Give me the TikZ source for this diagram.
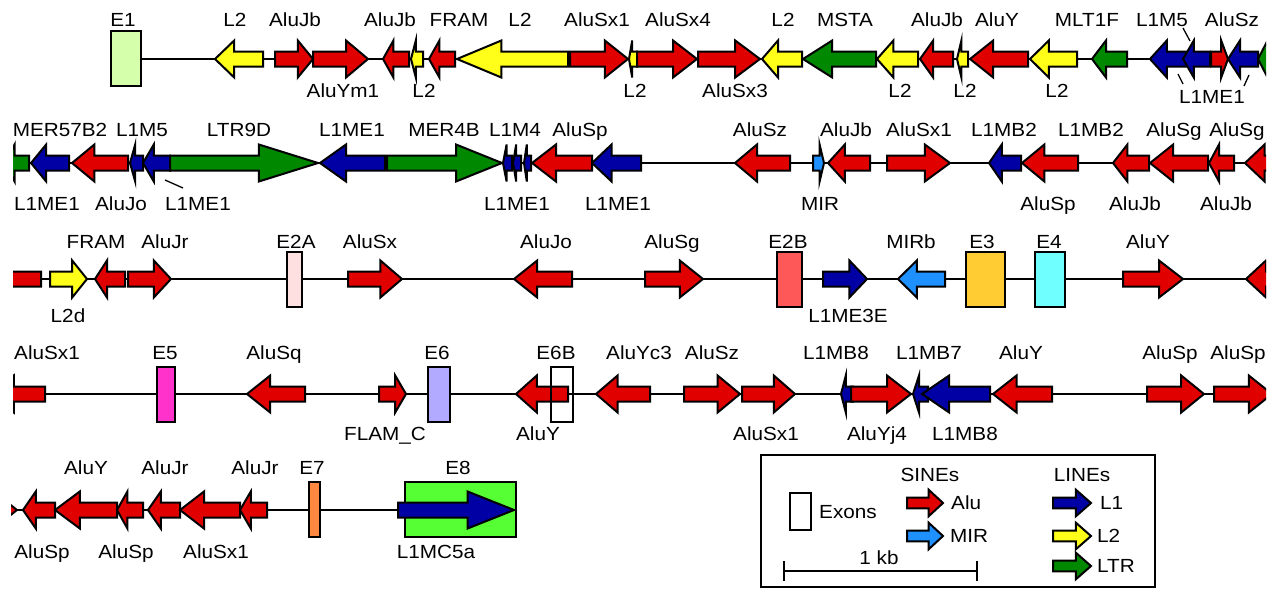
\documentclass[tikz,border=0pt]{standalone}
\usepackage{fontspec}
\setmainfont{Liberation Sans}[FakeStretch=1.09]
\usetikzlibrary{arrows.meta}
\definecolor{alured}{RGB}{224,0,0}
\definecolor{ltwoyel}{RGB}{255,255,26}
\definecolor{ltrgrn}{RGB}{0,136,0}
\definecolor{loneblu}{RGB}{0,0,165}
\definecolor{mirblu}{RGB}{30,144,255}
\definecolor{exA}{RGB}{213,255,170}
\definecolor{exB}{RGB}{255,224,224}
\definecolor{exC}{RGB}{255,88,88}
\definecolor{exD}{RGB}{255,204,51}
\definecolor{exE}{RGB}{112,255,255}
\definecolor{exF}{RGB}{255,51,204}
\definecolor{exG}{RGB}{178,170,255}
\definecolor{exH}{RGB}{255,136,64}
\definecolor{exI}{RGB}{85,255,51}
\tikzset{
  rep/.style={draw,line width=2pt},
  backbone/.style={line width=1.8pt},
  exon/.style={draw,line width=2pt,inner sep=0pt,minimum height=55pt},
  lab/.style={font=\fontsize{19}{21}\selectfont,inner sep=0pt,text height=13.6pt,text depth=0pt},
  lead/.style={line width=1.3pt}
}
\newcommand\repel[5][1]{%
  \pgfmathsetmacro\headx{#5-0.4*(#5-#4)}%
  \draw[rep,fill=#2] (#4,#3-7.5*#1) -- (\headx,#3-7.5*#1) -- (\headx,#3-18.5*#1) -- (#5,#3)
    -- (\headx,#3+18.5*#1) -- (\headx,#3+7.5*#1) -- (#4,#3+7.5*#1) -- cycle;}

\begin{document}
\begin{tikzpicture}[x=1pt,y=-1pt]
\useasboundingbox (0,0) rectangle (1278,589);

\begin{scope}
\clip (100,0) rectangle (1266,110);
\draw[backbone] (141,59) -- (1266,59);
\node[exon,fill=exA,minimum width=30pt] (e1) at (126,58.5) {};
\foreach \c/\a/\b in {ltwoyel/263/215, alured/275/313, alured/313/368, alured/409/383,
  ltwoyel/423/411, alured/455/429, ltwoyel/568/457, alured/570/628, ltwoyel/637/629,
  alured/637/697, alured/698/760, ltwoyel/802/762, ltrgrn/876/803, ltwoyel/918/877,
  alured/953/920, ltwoyel/968/957, alured/1028/970, ltwoyel/1077/1030, ltrgrn/1127/1092,
  loneblu/1192/1150, loneblu/1210/1183, alured/1211/1228, loneblu/1258/1228, ltrgrn/1282/1258}
  \repel{\c}{59}{\a}{\b};
\end{scope}
\foreach \x/\t [count=\i] in {123/E1, 235/L2, 295/AluJb, 390/AluJb, 459/FRAM, 520/L2,
  597/AluSx1, 678/AluSx4, 783/L2, 845/MSTA, 937/AluJb, 997/AluY, 1087/MLT1F, 1162/L1M5, 1232/AluSz}
  \node[lab] (ra\i) at (\x,20) {\t};
\foreach \x/\t [count=\i] in {343/AluYm1, 424/L2, 635/L2, 735/AluSx3, 900/L2, 965/L2, 1057/L2}
  \node[lab] (rb\i) at (\x,91) {\t};
\node[lab] (rbme) at (1212,97) {L1ME1};
\coordinate (ka) at (1183,28); \coordinate (kb) at (1190,41);
\coordinate (kc) at (1178,74); \coordinate (kd) at (1183,84);
\coordinate (ke) at (1249,75); \coordinate (kf) at (1244,86);
\draw[lead] (ka) -- (kb);
\draw[lead] (kc) -- (kd);
\draw[lead] (ke) -- (kf);

\begin{scope}
\clip (13,110) rectangle (1266,225);
\draw[backbone] (13,163) -- (1266,163);
\foreach \c/\a/\b in {ltrgrn/29/5, loneblu/69/31, alured/128/72, loneblu/143/130, loneblu/170/143,
  ltrgrn/170/318, loneblu/385/320, ltrgrn/387/502, loneblu/512/503, loneblu/521/513, loneblu/531/524,
  alured/592/532, loneblu/641/592, alured/790/735, mirblu/813/824, alured/870/828, alured/887/950,
  loneblu/1021/989, alured/1078/1022, alured/1149/1113, alured/1208/1150, alured/1234/1209,
  alured/1294/1245}
  \repel{\c}{163}{\a}{\b};
\end{scope}
\foreach \x/\t [count=\i] in {60/MER57B2, 142/L1M5, 239/LTR9D, 352/L1ME1, 444/MER4B, 515/L1M4,
  580/AluSp, 760/AluSz, 846/AluJb, 919/AluSx1, 1004/L1MB2, 1091/L1MB2, 1174/AluSg, 1237/AluSg}
  \node[lab] (sa\i) at (\x,130) {\t};
\foreach \x/\t [count=\i] in {47/L1ME1, 121/AluJo, 198/L1ME1, 517/L1ME1, 618/L1ME1, 820/MIR,
  1048/AluSp, 1135/AluJb, 1226/AluJb}
  \node[lab] (sb\i) at (\x,204) {\t};
\coordinate (kg) at (165,180); \coordinate (kh) at (183,188);
\draw[lead] (kg) -- (kh);

\begin{scope}
\clip (13,225) rectangle (1266,335);
\draw[backbone] (13,279) -- (1266,279);
\node[exon,fill=exB,minimum width=15pt] (e2a) at (294.5,279) {};
\node[exon,fill=exC,minimum width=25pt] (e2b) at (789.5,279) {};
\node[exon,fill=exD,minimum width=39pt] (e3) at (985.5,279) {};
\node[exon,fill=exE,minimum width=30pt] (e4) at (1050,279) {};
\foreach \c/\a/\b in {alured/41/-8, ltwoyel/50/87, alured/125/95, alured/128/171, alured/348/402,
  alured/572/514, alured/645/703, loneblu/823/867, mirblu/945/898, alured/1123/1183, alured/1296/1246}
  \repel{\c}{279}{\a}{\b};
\end{scope}
\foreach \x/\t [count=\i] in {96/FRAM, 165/AluJr, 296/E2A, 370/AluSx, 546/AluJo, 672/AluSg,
  788/E2B, 911/MIRb, 982/E3, 1049/E4, 1148/AluY}
  \node[lab] (ta\i) at (\x,242) {\t};
\foreach \x/\t [count=\i] in {68/L2d, 848/L1ME3E}
  \node[lab] (tb\i) at (\x,316) {\t};

\begin{scope}
\clip (13,335) rectangle (1266,450);
\draw[backbone] (13,394) -- (1266,394);
\node[exon,fill=exF,minimum width=18pt] (e5) at (166,394) {};
\node[exon,fill=exG,minimum width=22pt] (e6) at (439,394) {};
\foreach \c/\a/\b in {alured/45/-7, alured/305/247, alured/379/406, alured/568/516}
  \repel{\c}{394}{\a}{\b};
\node[exon,minimum width=22pt] (e6b) at (562,394) {};
\foreach \c/\a/\b in {alured/650/596, alured/684/740, alured/742/795, loneblu/853/841, alured/851/911,
  loneblu/928/913, loneblu/990/922, alured/1052/993, alured/1147/1204, alured/1214/1272}
  \repel{\c}{394}{\a}{\b};
\end{scope}
\foreach \x/\t [count=\i] in {47/AluSx1, 165/E5, 274/AluSq, 437/E6, 556/E6B, 639/AluYc3, 712/AluSz,
  836/L1MB8, 929/L1MB7, 1021/AluY, 1170/AluSp, 1238/AluSp}
  \node[lab] (ua\i) at (\x,353) {\t};
\foreach \x/\t [count=\i] in {385/FLAM\_C, 538/AluY, 766/AluSx1, 877/AluYj4, 965/L1MB8}
  \node[lab] (ub\i) at (\x,434) {\t};

\begin{scope}
\clip (11,450) rectangle (600,589);
\draw[backbone] (11,510) -- (398,510);
\node[exon,fill=exH,minimum width=11pt] (e7) at (314.5,509.5) {};
\node[exon,fill=exI,minimum width=111pt] (e8) at (460.5,509.5) {};
\foreach \c/\a/\b in {alured/-41/17, alured/55/23, alured/117/55, alured/143/117, alured/180/148,
  alured/240/180, alured/267/240, loneblu/398/514}
  \repel{\c}{510}{\a}{\b};
\end{scope}
\foreach \x/\t [count=\i] in {86/AluY, 165/AluJr, 255/AluJr, 312/E7, 458/E8}
  \node[lab] (va\i) at (\x,468) {\t};
\foreach \x/\t [count=\i] in {42/AluSp, 126/AluSp, 216/AluSx1, 436/L1MC5a}
  \node[lab] (vb\i) at (\x,552) {\t};

\draw[line width=2.5pt] (761,455) rectangle (1155,587);
\node[exon,minimum width=21pt,minimum height=37pt] (exkey) at (800.5,511.5) {};
\node[lab,anchor=west] (exkeyt) at (819,512) {Exons};
\node[lab] (sines) at (930,475) {SINEs};
\node[lab] (lines) at (1082,475) {LINEs};
\repel[0.72]{alured}{503}{907}{943}
\repel[0.72]{mirblu}{536}{907}{943}
\repel[0.72]{loneblu}{503}{1053}{1091}
\repel[0.72]{ltwoyel}{536}{1053}{1091}
\repel[0.72]{ltrgrn}{566}{1053}{1091}
\node[lab,anchor=west] (kalu) at (951,503) {Alu};
\node[lab,anchor=west] (kmir) at (950,536) {MIR};
\node[lab,anchor=west] (klone) at (1100,503) {L1};
\node[lab,anchor=west] (kltwo) at (1097,536) {L2};
\node[lab,anchor=west] (kltr) at (1097,566) {LTR};
\coordinate (kb0) at (783,571); \coordinate (kb1) at (978,571);
\draw[backbone,{Bar[width=20pt]}-{Bar[width=20pt]}] (kb0) -- (kb1);
\node[lab] (kbt) at (879,558) {1 kb};
\end{tikzpicture}
\end{document}
